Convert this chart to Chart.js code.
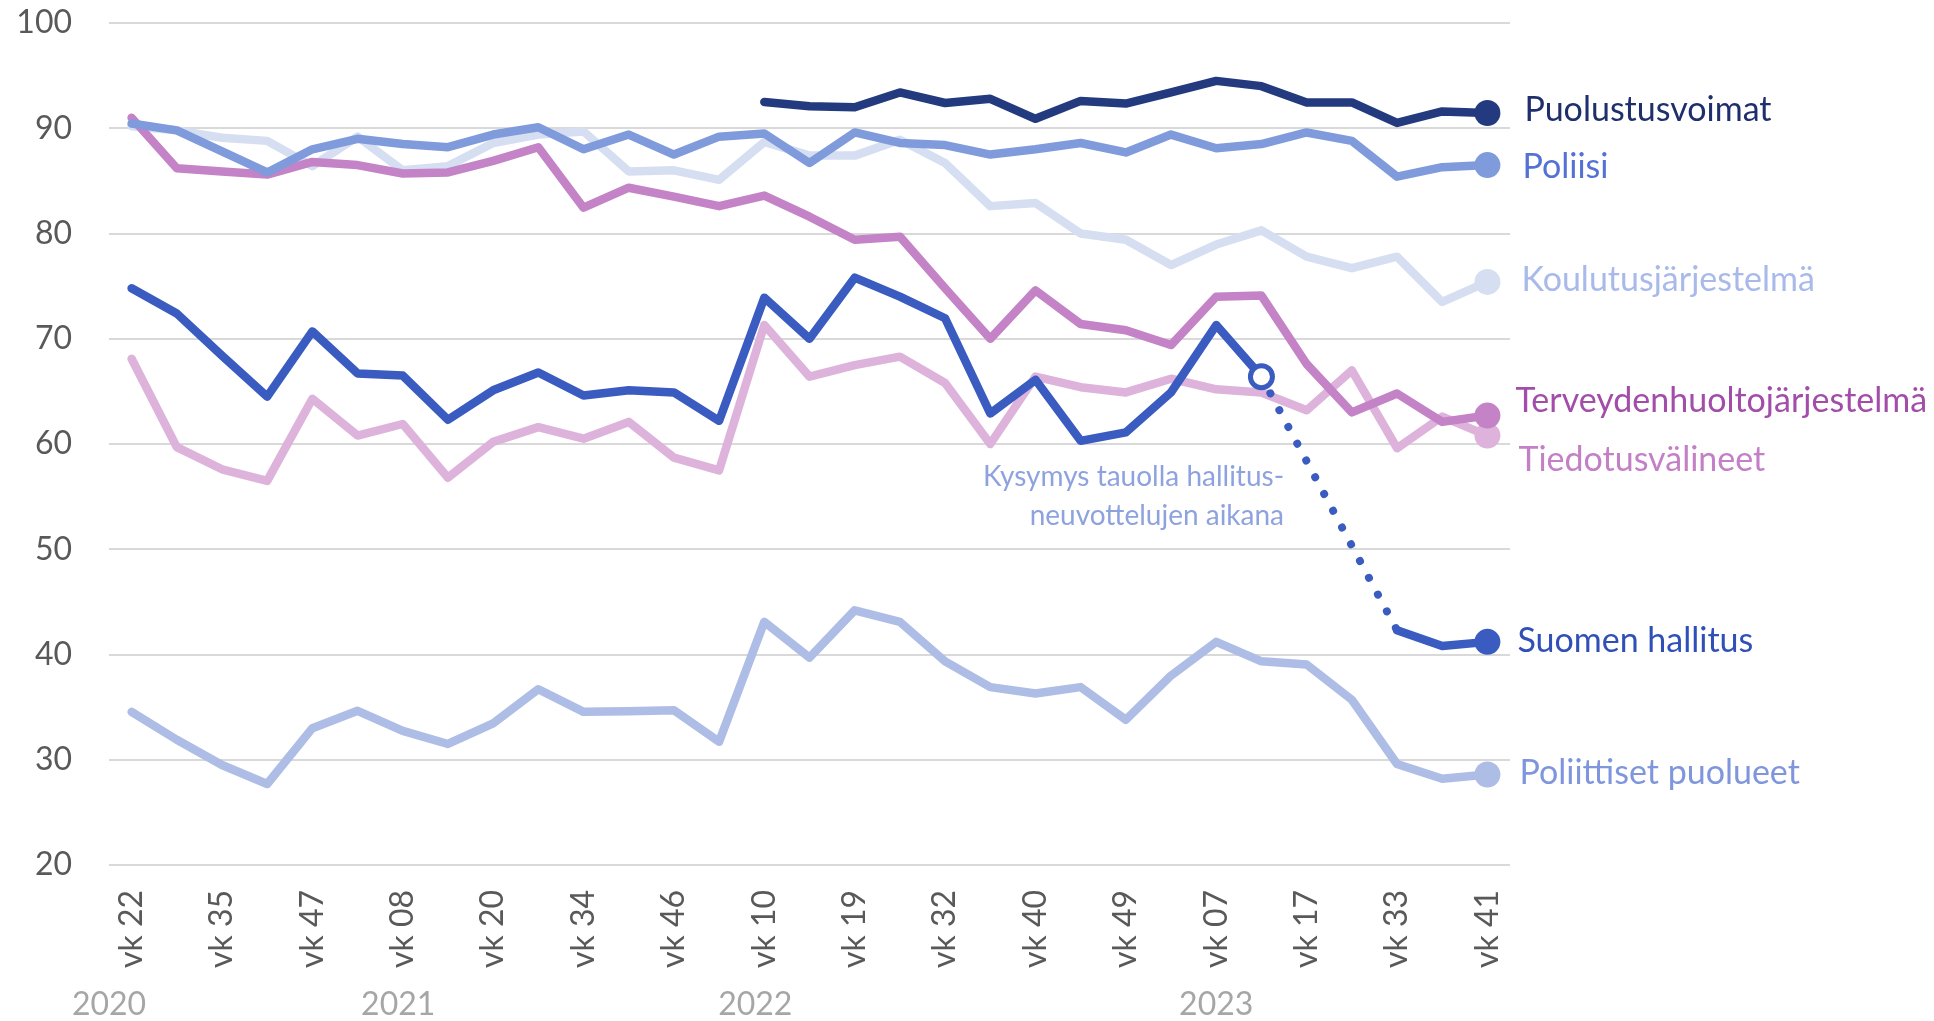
<!DOCTYPE html>
<html>
<head>
<meta charset="utf-8">
<script src="https://cdn.jsdelivr.net/npm/chart.js@4.4.0/dist/chart.umd.min.js"></script>
<style>body{margin:0;background:#fff}</style>
</head>
<body>
<canvas id="myChart" width="1934" height="1021"></canvas>
<script>
// week labels, only every second one is printed in the original
const weekLabels = ['vk 22', '', 'vk 35', '', 'vk 47', '', 'vk 08', '', 'vk 20', '', 'vk 34', '', 'vk 46', '',
  'vk 10', '', 'vk 19', '', 'vk 32', '', 'vk 40', '', 'vk 49', '', 'vk 07', '', 'vk 17', '', 'vk 33', '', 'vk 41'];
const years = ['2020', '2021', '2022', '2023'];
const yearAt = [-0.5, 5.9, 13.8, 24];

const puolustusvoimat = [null, null, null, null, null, null, null, null, null, null, null, null, null, null,
  92.5, 92.1, 92.0, 93.4, 92.4, 92.8, 90.9, 92.6, 92.35, 93.4, 94.5, 94.0, 92.45, 92.45, 90.5, 91.6, 91.45];
const poliisi = [90.45, 89.8, 87.8, 85.8, 88.0, 89.0, 88.5, 88.2, 89.4, 90.1, 88.0, 89.4, 87.5, 89.2, 89.5,
  86.7, 89.6, 88.6, 88.4, 87.5, 88.0, 88.6, 87.7, 89.4, 88.1, 88.5, 89.6, 88.8, 85.4, 86.3, 86.5];
const koulutus = [90.2, 89.8, 89.1, 88.8, 86.4, 89.2, 86.0, 86.4, 88.6, 89.4, 89.7, 85.9, 86.0, 85.1, 88.7,
  87.4, 87.4, 88.9, 86.7, 82.6, 82.9, 80.0, 79.4, 77.0, 78.95, 80.3, 77.8, 76.7, 77.8, 73.5, 75.4];
const terveys = [91.0, 86.2, 85.9, 85.6, 86.8, 86.5, 85.7, 85.8, 86.9, 88.2, 82.45, 84.35, 83.5, 82.6, 83.6,
  81.6, 79.4, 79.7, 74.8, 70.0, 74.6, 71.4, 70.8, 69.4, 74.0, 74.1, 67.6, 63.0, 64.8, 62.1, 62.7];
const tiedotus = [68.1, 59.7, 57.6, 56.5, 64.3, 60.8, 61.9, 56.8, 60.2, 61.6, 60.5, 62.1, 58.7, 57.5, 71.3,
  66.4, 67.5, 68.3, 65.8, 60.0, 66.4, 65.4, 64.9, 66.2, 65.2, 64.9, 63.2, 67.0, 59.6, 62.6, 60.8];
const hallitus = [74.8, 72.4, 68.4, 64.5, 70.7, 66.7, 66.5, 62.3, 65.1, 66.8, 64.6, 65.1, 64.9, 62.2, 73.9,
  70.0, 75.8, 74.0, 71.95, 62.9, 66.1, 60.3, 61.1, 64.9, 71.3, 66.4, null, null, 42.3, 40.8, 41.2];
const puolueet = [34.55, 31.9, 29.5, 27.7, 33.0, 34.65, 32.75, 31.5, 33.45, 36.7, 34.55, 34.6, 34.7, 31.7, 43.1,
  39.7, 44.2, 43.1, 39.35, 36.9, 36.3, 36.9, 33.8, 38.0, 41.2, 39.35, 39.05, 35.7, 29.6, 28.2, 28.6];

const seriesNames = ['Puolustusvoimat', 'Poliisi', 'Suomen hallitus', 'Terveydenhuoltojärjestelmä',
  'Tiedotusvälineet', 'Koulutusjärjestelmä', 'Poliittiset puolueet'];
const seriesData = [puolustusvoimat, poliisi, hallitus, terveys, tiedotus, koulutus, puolueet];
const lineColors = ['#233B7E', '#7F9BDB', '#3A5BBF', '#C383C6', '#DDB3DC', '#D6DEF2', '#AEBDE6'];
const textColors = ['#1F2F6B', '#5472D3', '#3050B8', '#A24DA9', '#C480C6', '#A9BAEA', '#7F96DD'];
const labelShift = [-3, 2, -1, -15, 24, -2, -1];
const labelGap = [37, 35, 30, 28, 31, 34, 32];

const noteLines = ['Kysymys tauolla hallitus-', 'neuvottelujen aikana'];
const noteAt = 25.5;
const noteY = [56.9, 53.2];
const openPoint = 25; // hallitus: last value before the break

const endLabels = {
  id: 'endLabels',
  afterDatasetsDraw(chart) {
    const { ctx } = chart;
    const x = chart.scales.x;
    const y = chart.scales.y;
    ctx.save();
    ctx.textBaseline = 'middle';
    ctx.textAlign = 'left';
    ctx.font = '34px Lato';
    seriesNames.forEach((name, k) => {
      const data = seriesData[k];
      const last = data.length - 1;
      ctx.fillStyle = textColors[k];
      ctx.fillText(name, x.getPixelForValue(last) + labelGap[k], y.getPixelForValue(data[last]) + labelShift[k]);
    });
    ctx.font = '28px Lato';
    ctx.textAlign = 'right';
    ctx.fillStyle = '#8EA2E0';
    noteLines.forEach((t, k) => ctx.fillText(t, x.getPixelForValue(noteAt), y.getPixelForValue(noteY[k])));
    ctx.font = '32px Lato';
    ctx.textAlign = 'center';
    ctx.fillStyle = '#A6A6A6';
    years.forEach((t, k) => ctx.fillText(t, x.getPixelForValue(yearAt[k]), chart.height - 16));
    ctx.restore();
  }
};

const inGap = (c) => c.p0.skip || c.p1.skip;

const datasets = seriesData.map((data, k) => {
  const last = data.length - 1;
  const radius = data.map((v, i) => (i === last ? 13 : 0));
  const fill = data.map(() => lineColors[k]);
  const bw = data.map(() => 0);
  if (data === hallitus) {
    radius[openPoint] = 11;
    fill[openPoint] = '#ffffff';
    bw[openPoint] = 5;
  }
  return {
    label: seriesNames[k],
    data: data,
    borderColor: lineColors[k],
    borderWidth: 8.5,
    borderJoinStyle: 'round',
    borderCapStyle: 'round',
    tension: 0,
    spanGaps: data === hallitus,
    pointRadius: radius,
    pointHoverRadius: radius,
    pointBackgroundColor: fill,
    pointBorderColor: lineColors[k],
    pointBorderWidth: bw,
    segment: {
      borderDash: (c) => (inGap(c) ? [0.01, 19] : undefined),
      borderWidth: (c) => (inGap(c) ? 8 : undefined)
    }
  };
});

const ctx = document.getElementById('myChart').getContext('2d');
const chart = new Chart(ctx, {
  type: 'line',
  data: { labels: weekLabels, datasets: datasets },
  options: {
    responsive: false,
    devicePixelRatio: 1,
    animation: false,
    layout: { padding: { top: 23, right: 424, bottom: 0, left: 0 } },
    plugins: { legend: { display: false }, tooltip: { enabled: false } },
    scales: {
      x: {
        offset: true,
        grid: { display: false, drawTicks: false },
        border: { display: false },
        ticks: {
          autoSkip: false,
          maxRotation: 90,
          minRotation: 90,
          padding: 25,
          color: '#595959',
          font: { family: 'Lato', size: 32 }
        },
        afterFit: (s) => { s.height = 156; }
      },
      y: {
        min: 20,
        max: 100,
        grid: { color: '#D9D9D9', lineWidth: 2, drawTicks: false },
        border: { display: false },
        ticks: {
          stepSize: 10,
          padding: 37,
          color: '#595959',
          font: { family: 'Lato', size: 32 }
        },
        afterFit: (s) => {
          s.width = 109;
          s.paddingTop = 0;
          s.paddingBottom = 0;
        }
      }
    }
  },
  plugins: [endLabels]
});
</script>
</body>
</html>
